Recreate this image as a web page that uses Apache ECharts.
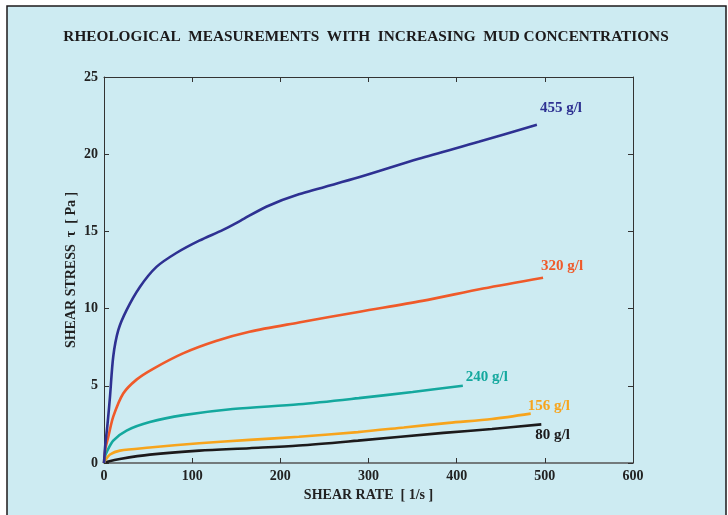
<!DOCTYPE html>
<html><head><meta charset="utf-8">
<script src="https://cdn.jsdelivr.net/npm/echarts@6/dist/echarts.min.js"></script>
<style>html,body{margin:0;padding:0;background:#fff;}#c{width:728px;height:515px;}</style>
</head><body><div id="c"></div>
<script>
const seriesNames = ['455 g/l', '320 g/l', '240 g/l', '156 g/l', '80 g/l'];
const seriesColors = ['#2e3192', '#ef5a2a', '#14a89e', '#f7a41c', '#1c1a1b'];
const xTicks = [0, 100, 200, 300, 400, 500, 600];
const yTicks = [0, 5, 10, 15, 20, 25];
// shear rate [1/s], shear stress [Pa]
const rate455 = [0, 1.5, 3.8, 6.8, 10.5, 16.2, 25.6, 40.7, 59.5, 82, 108, 135, 155, 184, 221, 289, 357, 425, 491];
const stress455 = [0, 1.2, 2.4, 4.3, 6.9, 8.6, 9.9, 11.4, 12.7, 13.6, 14.4, 15.1, 15.7, 16.6, 17.4, 18.5, 19.7, 20.8, 21.9];
const rate320 = [0, 1.5, 4.9, 10.5, 21.8, 36.9, 55.7, 89.6, 127, 165, 221, 290, 361, 430, 498];
const stress320 = [0, 0.9, 1.7, 3.0, 4.5, 5.4, 6.1, 7.1, 7.9, 8.5, 9.1, 9.8, 10.5, 11.3, 12.0];
const rate240 = [0, 1, 3, 10.5, 25.6, 52, 90, 146, 221, 289, 350, 407];
const stress240 = [0, 0.4, 0.7, 1.45, 2.1, 2.65, 3.1, 3.5, 3.8, 4.2, 4.6, 5.0];
const rate156 = [0, 1, 6.8, 18, 52, 108, 165, 221, 288, 340, 391, 440, 484];
const stress156 = [0, 0.15, 0.55, 0.8, 1.0, 1.28, 1.5, 1.7, 2.0, 2.3, 2.6, 2.85, 3.2];
const rate80 = [0, 5, 18, 52, 108, 165, 221, 288, 385, 440, 496];
const stress80 = [0, 0.1, 0.26, 0.54, 0.8, 0.96, 1.13, 1.45, 1.95, 2.2, 2.5];

const rates = [rate455, rate320, rate240, rate156, rate80];
const stresses = [stress455, stress320, stress240, stress156, stress80];
const labelOffsets = [[-5, -17], [-10, -12], [-5, -9], [-11, -7], [-14, 11]];

const font = '"Liberation Serif", "DejaVu Serif", serif';
const axisColor = '#333';

const chart = echarts.init(document.getElementById('c'), null, {renderer: 'canvas'});
const series = seriesNames.map((name, i) => ({
  name: name,
  type: 'line',
  xAxisIndex: 0, yAxisIndex: 0,
  data: rates[i].map((x, j) => [x, stresses[i][j]]),
  showSymbol: false,
  smooth: 0.3,
  lineStyle: {color: seriesColors[i], width: 2.6},
  itemStyle: {color: seriesColors[i]},
  z: 10 - i,
  endLabel: {
    show: true,
    formatter: name,
    color: seriesColors[i],
    fontFamily: font,
    fontWeight: 'bold',
    fontSize: 15,
    offset: labelOffsets[i]
  },
  animation: false
}));

const tickInside = {show: true, inside: true, length: 5, lineStyle: {color: axisColor, width: 1}};
chart.setOption({
  backgroundColor: 'transparent',
  animation: false,
  title: {
    text: 'RHEOLOGICAL  MEASUREMENTS  WITH  INCREASING  MUD CONCENTRATIONS',
    left: 361, top: 25, textAlign: 'center',
    textStyle: {fontFamily: font, fontWeight: 'bold', fontSize: 15.3, color: '#1c1a1b'}
  },
  graphic: [{
    type: 'rect', z: -10, silent: true,
    shape: {x: 7, y: 6, width: 719, height: 520},
    style: {fill: '#cdebf2', stroke: '#1c1a1b', lineWidth: 1.5}
  }],
  grid: {left: 104, right: 95, top: 77, bottom: 52},
  xAxis: [{
    type: 'value', min: 0, max: 600, interval: 100, position: 'bottom',
    name: 'SHEAR RATE  [ 1/s ]', nameLocation: 'middle', nameGap: 17,
    nameTextStyle: {fontFamily: font, fontWeight: 'bold', fontSize: 14, color: '#222'},
    axisLine: {show: true, onZero: false, lineStyle: {color: '#555', width: 1.5}},
    axisTick: tickInside,
    axisLabel: {fontFamily: font, fontWeight: 'bold', fontSize: 14, color: '#222', margin: 6},
    splitLine: {show: false}
  }, {
    type: 'value', min: 0, max: 600, interval: 100, position: 'top',
    axisLine: {show: true, onZero: false, lineStyle: {color: axisColor, width: 1}},
    axisTick: tickInside, axisLabel: {show: false}, splitLine: {show: false}
  }],
  yAxis: [{
    type: 'value', min: 0, max: 25, interval: 5, position: 'left',
    name: 'SHEAR STRESS  \u03c4  [ Pa ]', nameLocation: 'middle', nameGap: 26,
    nameMoveOverlap: false,
    nameTextStyle: {fontFamily: font, fontWeight: 'bold', fontSize: 14, color: '#222'},
    axisLine: {show: true, onZero: false, lineStyle: {color: axisColor, width: 1}},
    axisTick: tickInside,
    axisLabel: {fontFamily: font, fontWeight: 'bold', fontSize: 14, color: '#222', margin: 6},
    splitLine: {show: false}
  }, {
    type: 'value', min: 0, max: 25, interval: 5, position: 'right',
    axisLine: {show: true, onZero: false, lineStyle: {color: axisColor, width: 1}},
    axisTick: tickInside, axisLabel: {show: false}, splitLine: {show: false}
  }],
  series: series
});
</script></body></html>
